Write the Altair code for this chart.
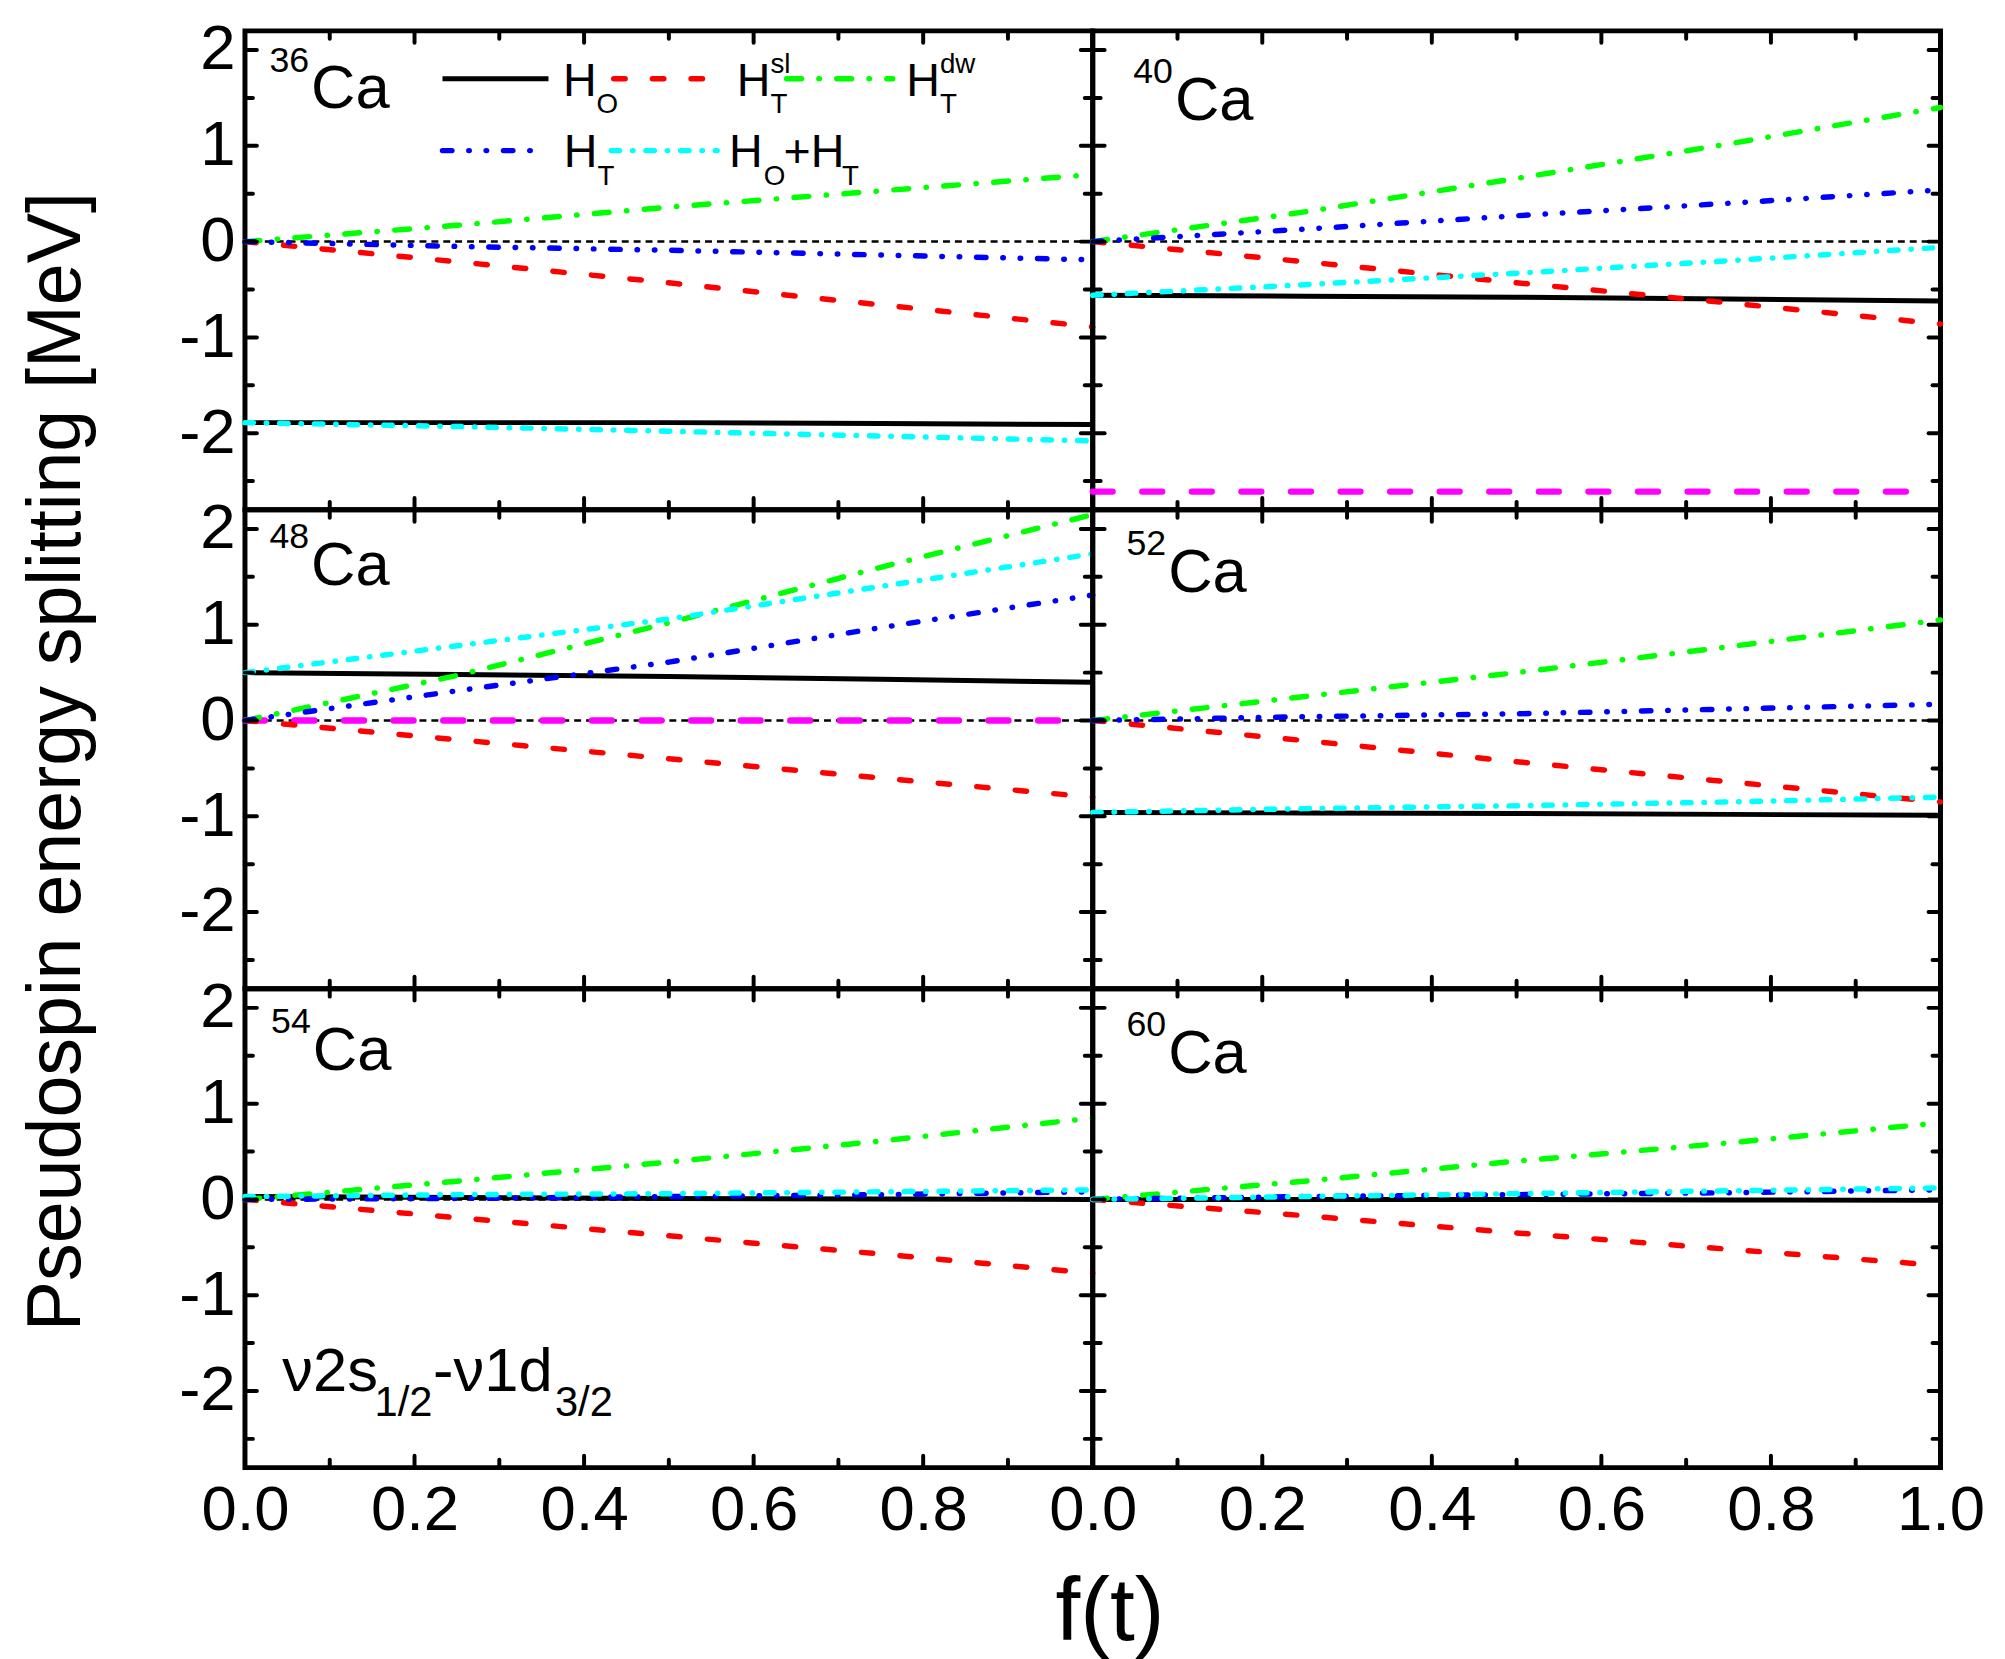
import altair as alt
import pandas as pd

FONT = "Liberation Sans"

# ---------------- data ----------------
F = [0.0, 0.25, 0.5, 0.75, 1.0]
NUCLEI = ["36", "40", "48", "52", "54", "60"]

H_O = {
    "36": [-1.89, -1.89, -1.89, -1.90, -1.91],
    "40": [-0.56, -0.57, -0.58, -0.60, -0.62],
    "48": [0.50, 0.48, 0.46, 0.43, 0.40],
    "52": [-0.96, -0.965, -0.97, -0.98, -0.99],
    "54": [0.03, 0.02, 0.01, 0.005, 0.00],
    "60": [0.00, 0.00, 0.00, -0.005, -0.01],
}
H_T_SL = {
    "36": [0.0, -0.21, -0.43, -0.66, -0.89],
    "40": [0.0, -0.21, -0.43, -0.64, -0.86],
    "48": [0.0, -0.20, -0.40, -0.60, -0.80],
    "52": [0.0, -0.21, -0.43, -0.64, -0.85],
    "54": [0.0, -0.19, -0.38, -0.57, -0.77],
    "60": [0.0, -0.17, -0.35, -0.52, -0.69],
}
H_T_DW = {
    "36": [0.0, 0.17, 0.36, 0.53, 0.70],
    "40": [0.0, 0.31, 0.66, 1.02, 1.40],
    "48": [0.0, 0.47, 1.02, 1.60, 2.15],
    "52": [0.0, 0.25, 0.50, 0.77, 1.05],
    "54": [0.0, 0.19, 0.39, 0.61, 0.85],
    "60": [0.0, 0.19, 0.40, 0.59, 0.80],
}
H_T = {
    "36": [0.0, -0.05, -0.09, -0.14, -0.19],
    "40": [0.0, 0.13, 0.27, 0.40, 0.54],
    "48": [0.0, 0.31, 0.61, 0.97, 1.31],
    "52": [0.0, 0.04, 0.07, 0.12, 0.17],
    "54": [0.0, 0.01, 0.03, 0.05, 0.08],
    "60": [0.0, 0.03, 0.05, 0.07, 0.10],
}
H_O_PLUS_H_T = {
    "36": [-1.89, -1.93, -1.98, -2.03, -2.08],
    "40": [-0.56, -0.45, -0.33, -0.20, -0.06],
    "48": [0.50, 0.78, 1.06, 1.40, 1.74],
    "52": [-0.96, -0.92, -0.89, -0.85, -0.80],
    "54": [0.03, 0.05, 0.06, 0.08, 0.10],
    "60": [0.00, 0.03, 0.06, 0.09, 0.12],
}
EXP_F = {"40": [0.0, 0.97], "48": [0.0, 0.98]}
EXP_V = {"40": [-2.61, -2.61], "48": [0.0, 0.0]}

X_MAJOR = [0.0, 0.2, 0.4, 0.6, 0.8, 1.0]
X_MINOR = [0.1, 0.3, 0.5, 0.7, 0.9]
Y_MAJOR = [-2, -1, 0, 1, 2]
Y_MINOR = [-2.5, -1.5, -0.5, 0.5, 1.5]
X_LABELS_LEFT = [0.0, 0.2, 0.4, 0.6, 0.8]
X_LABELS_RIGHT = [0.0, 0.2, 0.4, 0.6, 0.8, 1.0]
Y_LABELS = [-2, -1, 0, 1, 2]

# ---------------- layout / style ----------------
W, H = 855, 483
SERIES = [
    ("HO", H_O), ("HTsl", H_T_SL), ("HTdw", H_T_DW), ("HT", H_T), ("HOHT", H_O_PLUS_H_T),
]
STYLE = {
    "HO": dict(color="#000000", strokeWidth=5),
    "HTsl": dict(color="#FF0000", strokeWidth=5.5, strokeDash=[11.5, 27.5], strokeCap="round"),
    "HTdw": dict(color="#00FF00", strokeWidth=5.5, strokeDash=[15, 17.5, 0.5, 17.5], strokeCap="round"),
    "HT": dict(color="#0000FF", strokeWidth=5.5, strokeDash=[9.5, 17, 0.5, 17, 0.5, 17], strokeCap="round"),
    "HOHT": dict(color="#00FFFF", strokeWidth=5.5, strokeDash=[8.5, 13, 0.5, 13], strokeCap="round"),
}
EXP_STYLE = dict(color="#FF00FF", strokeWidth=6.5, strokeDash=[20, 30], strokeCap="round")
TICK_STYLE = dict(color="black", strokeWidth=4, strokeCap="round")
TICK_MAJOR, TICK_MINOR = 12, 8

CA_POS = [(0.078, 1.39), (0.097, 1.27), (0.078, 1.42), (0.089, 1.34), (0.080, 1.35), (0.089, 1.32)]

LEG_ROW1, LEG_ROW2 = 1.70, 0.95
LEGEND_LINES = [
    ("HO", 0.233, 0.358, LEG_ROW1),
    ("HTsl", 0.435, 0.546, LEG_ROW1),
    ("HTdw", 0.639, 0.764, LEG_ROW1),
    ("HT", 0.233, 0.352, LEG_ROW2),
    ("HOHT", 0.432, 0.557, LEG_ROW2),
]
# (text, x, y, dx, dy, fontSize)
LEGEND_TEXT = [
    ("H", 0.375, LEG_ROW1, 0, 17, 47), ("O", 0.375, LEG_ROW1, 34, 35, 28),
    ("H", 0.580, LEG_ROW1, 0, 17, 47), ("T", 0.580, LEG_ROW1, 34, 35, 28), ("sl", 0.580, LEG_ROW1, 34, -6, 28),
    ("H", 0.780, LEG_ROW1, 0, 17, 47), ("T", 0.780, LEG_ROW1, 34, 35, 28), ("dw", 0.780, LEG_ROW1, 34, -6, 28),
    ("H", 0.376, LEG_ROW2, 0, 17, 47), ("T", 0.376, LEG_ROW2, 34, 35, 28),
    ("H", 0.571, LEG_ROW2, 0, 17, 47), ("O", 0.571, LEG_ROW2, 35, 35, 28),
    ("+H", 0.571, LEG_ROW2, 55, 17, 47), ("T", 0.571, LEG_ROW2, 114, 35, 28),
]
NU_X, NU_Y = 0.044, -2.0
NU_TEXT = [
    ("\u03bd2s", 0, 0, 62), ("1/2", 93, 25, 42), ("-\u03bd1d", 152, 0, 62), ("3/2", 275, 25, 42),
]

MINUS_FIX = "replace(datum.label, '\u2212', '-')"


def make_panel(idx):
    key = NUCLEI[idx]
    col, row = idx % 2, idx // 2
    xs = alt.Scale(domain=[0, 1], nice=False, zero=False)
    ys = alt.Scale(domain=[-2.8, 2.2], nice=False, zero=False)

    if row == 2:
        xkw = dict(values=X_LABELS_LEFT if col == 0 else X_LABELS_RIGHT, format=".1f",
                   labelFontSize=64, labelFont=FONT, labelColor="black", labelPadding=11,
                   ticks=False, tickSize=0, domain=False, grid=False, labelFlush=False,
                   labelOverlap=False, title=None)
        if col == 0:
            xkw.update(title="f(t)", titleFontSize=90, titleFont=FONT, titleFontWeight="normal",
                       titleColor="black", titleX=872, titleY=146, titleBaseline="middle",
                       titleAlign="center")
        xa = alt.Axis(**xkw)
    else:
        xa = None
    if col == 0:
        ykw = dict(values=Y_LABELS, format="d", labelExpr=MINUS_FIX, labelFontSize=64,
                   labelFont=FONT, labelColor="black", labelPadding=10, ticks=False,
                   tickSize=0, domain=False, grid=False, labelFlush=False,
                   labelOverlap=False, title=None)
        if row == 1:
            ykw.update(title="Pseudospin energy splitting [MeV]", titleFontSize=76,
                       titleFont=FONT, titleFontWeight="normal", titleColor="black",
                       titleX=-190, titleY=H / 2 + 12, titleBaseline="middle",
                       titleAlign="center", titleAngle=270)
        ya = alt.Axis(**ykw)
    else:
        ya = None

    def X(f):
        return alt.X(f"{f}:Q", scale=xs, axis=xa)

    def Y(f):
        return alt.Y(f"{f}:Q", scale=ys, axis=ya)

    layers = []
    # zero reference line
    layers.append(alt.Chart(pd.DataFrame({"v": [0.0]})).mark_rule(
        color="black", strokeWidth=2.5, strokeDash=[7, 5]).encode(y=Y("v")))
    # experimental value
    if key in EXP_F:
        layers.append(alt.Chart(pd.DataFrame({"f": EXP_F[key], "v": EXP_V[key]})).mark_line(
            **EXP_STYLE).encode(x=X("f"), y=Y("v")))
    for name, dct in SERIES:
        df = pd.DataFrame({"f": F, "v": dct[key]})
        layers.append(alt.Chart(df).mark_line(**STYLE[name]).encode(x=X("f"), y=Y("v")))

    # ticks on all four sides, pointing inward
    for vals, L in [(X_MAJOR, TICK_MAJOR), (X_MINOR, TICK_MINOR)]:
        d = pd.DataFrame({"f": vals})
        layers.append(alt.Chart(d).mark_rule(**TICK_STYLE).encode(
            x=X("f"), y=alt.value(H), y2=alt.value(H - L)))
        layers.append(alt.Chart(d).mark_rule(**TICK_STYLE).encode(
            x=X("f"), y=alt.value(0), y2=alt.value(L)))
    for vals, L in [(Y_MAJOR, TICK_MAJOR), (Y_MINOR, TICK_MINOR)]:
        d = pd.DataFrame({"v": vals})
        layers.append(alt.Chart(d).mark_rule(**TICK_STYLE).encode(
            y=Y("v"), x=alt.value(0), x2=alt.value(L)))
        layers.append(alt.Chart(d).mark_rule(**TICK_STYLE).encode(
            y=Y("v"), x=alt.value(W), x2=alt.value(W - L)))

    def txt(x, y, s, size, dx=0, dy=0, align="left"):
        d = pd.DataFrame({"x": [x], "y": [y], "t": [s]})
        return alt.Chart(d).mark_text(
            font=FONT, fontSize=size, color="black", align=align, baseline="alphabetic",
            dx=dx, dy=dy).encode(x=X("x"), y=Y("y"), text="t:N")

    # nucleus label
    cx, cy = CA_POS[idx]
    layers.append(txt(cx, cy, "Ca", 62))
    layers.append(txt(cx, cy, key, 36, dx=-2, dy=-37, align="right"))

    if idx == 0:
        for name, x1, x2, yv in LEGEND_LINES:
            d = pd.DataFrame({"x": [x1], "x2": [x2], "y": [yv]})
            st = dict(STYLE[name])
            layers.append(alt.Chart(d).mark_rule(**st).encode(
                x=X("x"), x2="x2:Q", y=Y("y")))
        for s, x, yv, dx, dy, fs in LEGEND_TEXT:
            layers.append(txt(x, yv, s, fs, dx=dx, dy=dy))
    if idx == 4:
        for s, dx, dy, fs in NU_TEXT:
            layers.append(txt(NU_X, NU_Y, s, fs, dx=dx, dy=dy))

    return alt.layer(*layers).properties(width=W, height=H)


panels = [make_panel(i) for i in range(6)]

chart = alt.concat(*panels, columns=2, spacing=0, bounds="flush").properties(
    padding={"left": 8, "top": 0, "right": 10, "bottom": 0},
    background="white",
).configure(font=FONT).configure_view(stroke="black", strokeWidth=5)

chart.save("out.html", embed_options={"renderer": "svg", "actions": False})
